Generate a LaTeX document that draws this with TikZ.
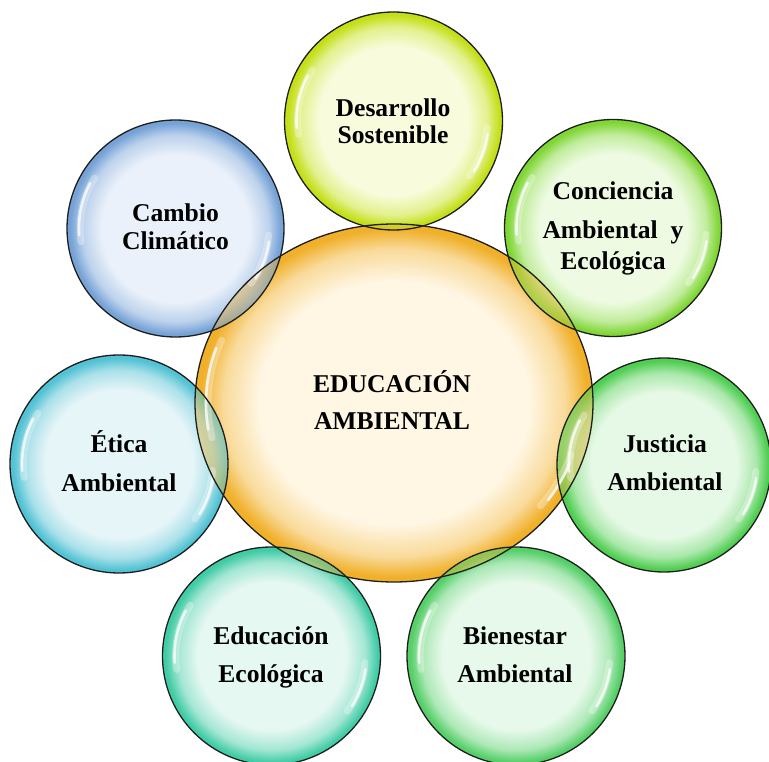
\documentclass[tikz,border=0pt]{standalone}
\usepackage{fontspec}
\setmainfont{Liberation Serif}
\usetikzlibrary{shapes.geometric}
\pgfdeclareradialshading[bin,bmid,bout]{bubble}{\pgfpoint{0bp}{0bp}}{color(0bp)=(bin); color(17bp)=(bin); color(21.5bp)=(bmid); color(24.3bp)=(bout); color(25bp)=(bout); color(50bp)=(bout)}
\colorlet{bin}{white}\colorlet{bmid}{white}\colorlet{bout}{white}
\definecolor{rimc}{HTML}{1E1E1E}
\definecolor{eduIn}{HTML}{FFF6E3}\definecolor{eduOut}{HTML}{F0B02A}
\definecolor{desIn}{HTML}{F8FCDC}\definecolor{desOut}{HTML}{C4DF18}
\definecolor{conIn}{HTML}{EEFBE2}\definecolor{conOut}{HTML}{80D636}
\definecolor{jusIn}{HTML}{E6F9E6}\definecolor{jusOut}{HTML}{50CE52}
\definecolor{bieIn}{HTML}{E6F9EA}\definecolor{bieOut}{HTML}{56CF68}
\definecolor{ecoIn}{HTML}{E5F8F2}\definecolor{ecoOut}{HTML}{42CCA6}
\definecolor{etiIn}{HTML}{E5F5F8}\definecolor{etiOut}{HTML}{52C2D4}
\definecolor{camIn}{HTML}{EAF1FA}\definecolor{camOut}{HTML}{76A2D6}
\newcommand\setbub[2]{\colorlet{bin}{#1}\colorlet{bout}{#2}\colorlet{bmid}{#1!60!#2}}
\newcommand\sst{\rule[-4pt]{0pt}{27pt}}
\tikzset{
  bub/.style={circle, inner sep=0pt, outer sep=0pt, minimum size=#1, shade, shading=bubble},
  rim/.style={draw=rimc, line width=1.3pt},
  lbl/.style={align=center, font=\bfseries\fontsize{25.6}{27}\selectfont, text=black, inner sep=0pt},
  hl/.style={white, line width=2.6pt, line cap=round, opacity=0.75},
  hlsoft/.style={white, line width=7pt, line cap=round, opacity=0.3},
}
\newcommand\hilite[2]{%
  \draw[hlsoft] ([shift={(148:{0.88*#2})}]#1.center) arc[start angle=148, end angle=188, radius={0.88*#2}];
  \draw[hl] ([shift={(152:{0.89*#2})}]#1.center) arc[start angle=152, end angle=184, radius={0.89*#2}];
  \draw[hlsoft] ([shift={(-4:{0.86*#2})}]#1.center) arc[start angle=-4, end angle=-36, radius={0.86*#2}];
  \draw[hl] ([shift={(-8:{0.87*#2})}]#1.center) arc[start angle=-8, end angle=-32, radius={0.87*#2}];
}
\newcommand\lens[2]{%
  \begin{scope}
    \clip (#1.center) circle[radius=#2];
    \setbub{eduIn}{eduOut}
    \path[shade, shading=bubble, fill opacity=0.4] (edu.center) ellipse[x radius=199, y radius=179];
  \end{scope}
}
\begin{document}
\begin{tikzpicture}[x=1pt,y=1pt]
\useasboundingbox (0,0) rectangle (769,761);
\clip (0,0) rectangle (769,761);
% central
\begin{scope}\setbub{eduIn}{eduOut}
\node[ellipse, inner sep=0pt, outer sep=0pt, minimum width=398, minimum height=358, shade, shading=bubble] (edu) at (394,358) {};
\end{scope}
% satellites
\begin{scope}\setbub{desIn}{desOut}\node[bub=218] (desa) at (393.5,640) {};\end{scope}
\begin{scope}\setbub{conIn}{conOut}\node[bub=217] (conc) at (613,533) {};\end{scope}
\begin{scope}\setbub{jusIn}{jusOut}\node[bub=214] (just) at (664,296) {};\end{scope}
\begin{scope}\setbub{bieIn}{bieOut}\node[bub=218] (bien) at (516,105) {};\end{scope}
\begin{scope}\setbub{ecoIn}{ecoOut}\node[bub=218] (edec) at (271.5,105) {};\end{scope}
\begin{scope}\setbub{etiIn}{etiOut}\node[bub=218] (etic) at (119,297) {};\end{scope}
\begin{scope}\setbub{camIn}{camOut}\node[bub=217] (camb) at (175.5,532.5) {};\end{scope}
% lenses
\lens{desa}{109}\lens{conc}{108.5}\lens{just}{107}\lens{bien}{109}
\lens{edec}{109}\lens{etic}{109}\lens{camb}{108.5}
% highlights
\draw[hlsoft] ([shift={(158:186 and 167)}]edu.center) arc[start angle=158, end angle=192, x radius=186, y radius=167];
\draw[hl] ([shift={(161:188 and 169)}]edu.center) arc[start angle=161, end angle=189, x radius=188, y radius=169];
\draw[hlsoft] ([shift={(-18:186 and 167)}]edu.center) arc[start angle=-18, end angle=-38, x radius=186, y radius=167];
\draw[hl] ([shift={(-21:188 and 169)}]edu.center) arc[start angle=-21, end angle=-35, x radius=188, y radius=169];
\hilite{desa}{109}\hilite{conc}{108.5}\hilite{just}{107}\hilite{bien}{109}
\hilite{edec}{109}\hilite{etic}{109}\hilite{camb}{108.5}
% outlines
\draw[rim] (edu.center) ellipse[x radius=199, y radius=179];
\draw[rim] (desa.center) circle[radius=109];
\draw[rim] (conc.center) circle[radius=108.5];
\draw[rim] (just.center) circle[radius=107];
\draw[rim] (bien.center) circle[radius=109];
\draw[rim] (edec.center) circle[radius=109];
\draw[rim] (etic.center) circle[radius=109];
\draw[rim] (camb.center) circle[radius=108.5];
% labels
\node[lbl] (eduT) at (392,359) {\sst EDUCACIÓN\\[10pt]\sst AMBIENTAL};
\node[lbl] (desaT) at (393,640) {\sst Desarrollo\\\sst Sostenible};
\node[lbl] (concT) at (613,535) {\sst Conciencia\\[12pt]\sst Ambiental\hspace{13pt}y\\[1pt]\sst Ecológica};
\node[lbl] (justT) at (665,298.5) {\sst Justicia\\[11pt]\sst Ambiental};
\node[lbl] (bienT) at (515,106.5) {\sst Bienestar\\[11pt]\sst Ambiental};
\node[lbl] (edecT) at (271,106.5) {\sst Educación\\[11pt]\sst Ecológica};
\node[lbl] (eticT) at (119,298) {\sst Ética\\[12pt]\sst Ambiental};
\node[lbl] (cambT) at (175.5,534.5) {\sst Cambio\\[1pt]\sst Climático};
\end{tikzpicture}
\end{document}
